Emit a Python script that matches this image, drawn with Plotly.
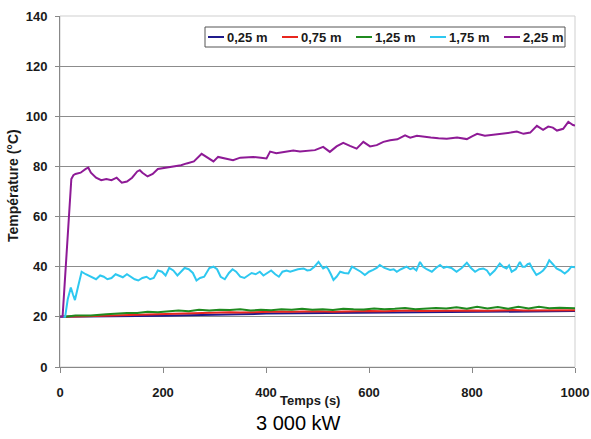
import plotly.graph_objects as go

# ---- data ----
series_names = ["0,25 m", "0,75 m", "1,25 m", "1,75 m", "2,25 m"]
series_colors = ["#1f1a8c", "#e8261e", "#1f8a1f", "#2ec8f0", "#8e1a96"]

t_blue = [0, 10, 60, 100, 150, 200, 250, 300, 350, 400, 450, 500, 550, 600, 650, 700, 750, 800, 850, 900, 950, 1000]
v_blue = [20, 20, 20.1, 20.1, 20.3, 20.4, 20.5, 20.8, 21, 21.3, 21.4, 21.6, 21.6, 21.8, 21.9, 22, 22, 22.1, 22.2, 22.2, 22.3, 22.3]

t_red = [0, 10, 50, 100, 150, 200, 230, 250, 280, 300, 330, 350, 380, 400, 430, 450, 480, 500, 530, 550, 580, 600, 630, 650, 680, 700, 730, 750, 780, 800, 830, 850, 880, 900, 930, 950, 980, 1000]
v_red = [20, 20, 20.2, 20.5, 20.8, 21, 21.3, 21.2, 21.5, 21.5, 21.8, 21.7, 21.9, 22, 22.1, 22, 22.2, 22.2, 22, 22.1, 22.3, 22.3, 22.2, 22.4, 22.5, 22.3, 22.4, 22.5, 22.6, 22.5, 22.4, 22.6, 22.7, 22.5, 22.6, 22.7, 22.6, 22.6]

t_green = [0, 10, 30, 60, 90, 110, 130, 150, 170, 190, 210, 230, 250, 270, 290, 310, 330, 350, 370, 390, 410, 430, 450, 470, 490, 510, 530, 550, 570, 590, 610, 630, 650, 670, 690, 710, 730, 750, 770, 790, 810, 830, 850, 870, 890, 910, 930, 950, 970, 1000]
v_green = [20, 20, 20.5, 20.5, 21, 21.3, 21.5, 21.5, 22, 21.8, 22.3, 22.5, 22.2, 22.8, 22.5, 22.8, 22.7, 23, 22.5, 22.8, 22.6, 23, 22.8, 23.2, 22.8, 23, 22.7, 23.2, 23, 22.9, 23.3, 23, 23.2, 23.5, 23, 23.3, 23.5, 23.3, 23.8, 23.2, 24, 23.3, 23.9, 23.2, 24, 23.3, 24, 23.4, 23.6, 23.4]

t_cyan = [0, 10, 15, 21, 25, 29, 35, 42, 50, 55, 62, 70, 78, 85, 92, 100, 108, 115, 122, 130, 138, 145, 152, 160, 168, 175, 182, 190, 198, 205, 212, 220, 228, 235, 242, 250, 258, 265, 272, 280, 290, 298, 305, 312, 320, 328, 335, 342, 350, 358, 365, 372, 380, 388, 395, 402, 410, 418, 425, 432, 440, 447, 455, 462, 473, 480, 486, 494, 502, 511, 517, 521, 526, 531, 537, 544, 552, 560, 567, 576, 584, 592, 600, 608, 615, 621, 630, 641, 648, 654, 662, 673, 680, 686, 692, 699, 705, 712, 722, 730, 738, 745, 751, 760, 770, 780, 790, 798, 806, 814, 822, 829, 835, 844, 854, 860, 867, 872, 877, 885, 893, 898, 903, 908, 912, 918, 925, 932, 938, 944, 950, 957, 964, 972, 980, 987, 993, 1000]
v_cyan = [20, 20, 27, 31.7, 29, 26.7, 32, 38, 37, 36.5, 35.5, 35, 36.5, 36, 35, 35.5, 37, 36.5, 35.8, 37, 36, 35, 34.5, 35.5, 36, 35, 35.5, 38.5, 38, 36.5, 39.5, 38.5, 36.5, 38, 39.5, 39, 37.5, 34.5, 35.5, 36, 39.5, 40, 39, 36, 35, 37.5, 39, 38, 36, 35.5, 36.5, 37.5, 37, 38, 36.5, 37.5, 38.5, 37, 36, 38, 38.5, 38, 38.5, 39, 39.3, 38.5, 38.7, 40, 41.9, 39.3, 40, 39, 37, 34.7, 36, 38, 37.5, 37.3, 40, 39, 38, 36.7, 38, 38.7, 39.5, 40.7, 39.5, 38.7, 39, 38, 39, 40, 39, 39.5, 38.5, 41.9, 40, 39, 38, 39.5, 40.7, 39.5, 40, 39.5, 38, 39.5, 41.6, 39.5, 38, 39, 39.3, 38.5, 36.7, 38.5, 41.3, 40, 39.3, 40.5, 38, 39, 41.9, 40, 40, 41, 41.3, 39, 36.7, 37.5, 38.5, 40, 42.6, 41, 39.3, 38.5, 37.3, 38.5, 40, 39.8]

t_purple = [0, 5, 22, 26, 30, 40, 50, 55, 60, 70, 80, 90, 100, 110, 120, 130, 140, 150, 155, 160, 170, 180, 190, 200, 210, 220, 235, 246, 260, 275, 290, 298, 307, 320, 336, 350, 375, 390, 401, 408, 420, 435, 453, 466, 480, 495, 511, 524, 537, 550, 563, 576, 589, 602, 615, 628, 641, 655, 670, 680, 693, 705, 720, 735, 751, 771, 790, 800, 810, 825, 837, 849, 862, 875, 887, 900, 913, 926, 938, 948, 957, 965, 977, 987, 996, 1000]
v_purple = [20, 20, 75, 76.5, 77, 77.5, 79, 79.5, 77.5, 75.5, 74.5, 75, 74.5, 75.5, 73.5, 74, 75.5, 78, 78.5, 77.5, 76, 77, 79, 79.3, 79.5, 80, 80.5, 81.2, 82, 85, 83, 82, 83.8, 83.2, 82.5, 83.5, 83.8, 83.5, 83.2, 85.9, 85.3, 85.8, 86.3, 86, 86.2, 86.5, 87.8, 85.8, 88, 89.4, 88.2, 87.1, 89.8, 88, 88.5, 89.8, 90.4, 90.8, 92.4, 91.5, 92.2, 92, 91.5, 91.2, 91, 91.5, 90.9, 92, 93, 92.2, 92.5, 92.6, 93, 93.5, 93.9, 93, 93.5, 96.2, 94.6, 95.9, 95.5, 94.3, 95, 97.8, 96.5, 96.3]

x_ticks = [0, 200, 400, 600, 800, 1000]
y_ticks = [0, 20, 40, 60, 80, 100, 120, 140]

all_t = [t_blue, t_red, t_green, t_cyan, t_purple]
all_v = [v_blue, v_red, v_green, v_cyan, v_purple]

# plot-area geometry (pixels) used to place the hand-made legend
W, H = 591, 439
ML, MR, MT, MB = 60, 16, 16, 72
PW, PH = W - ML - MR, H - MT - MB


def px_x(p):
    return (p - ML) / PW


def px_y(p):
    return (H - MB - p) / PH


fig = go.Figure()
for name, col, tt, vv in zip(series_names, series_colors, all_t, all_v):
    fig.add_trace(go.Scatter(x=tt, y=vv, mode="lines", name=name,
                             line=dict(color=col, width=2), showlegend=False))

shapes = [dict(type="rect", xref="paper", yref="paper", x0=0, y0=0, x1=1, y1=1,
               line=dict(color="#cfcfcf", width=1), layer="below")]
annotations = []

# legend box
LEG_X0, LEG_X1, LEG_Y0, LEG_Y1 = 205, 565, 27, 47
shapes.append(dict(type="rect", xref="paper", yref="paper",
                   x0=px_x(LEG_X0), x1=px_x(LEG_X1), y0=px_y(LEG_Y1), y1=px_y(LEG_Y0),
                   line=dict(color="#555555", width=1), fillcolor="white", layer="above"))
leg_step = 74
leg_start = 208
leg_line = 16
leg_cy = (LEG_Y0 + LEG_Y1) / 2
for i, (name, col) in enumerate(zip(series_names, series_colors)):
    lx = leg_start + i * leg_step
    shapes.append(dict(type="line", xref="paper", yref="paper",
                       x0=px_x(lx), x1=px_x(lx + leg_line), y0=px_y(leg_cy), y1=px_y(leg_cy),
                       line=dict(color=col, width=2), layer="above"))
    annotations.append(dict(text=name, x=px_x(lx + leg_line + 1), y=px_y(leg_cy), xref="paper", yref="paper",
                            showarrow=False, xanchor="left", yanchor="middle",
                            font=dict(size=13, weight="bold", color="#1a1a1a")))

annotations += [
    dict(text="Temps (s)", x=px_x(310), y=px_y(400), xref="paper", yref="paper",
         showarrow=False, font=dict(size=13, weight="bold"), xanchor="center", yanchor="middle"),
    dict(text="Température (°C)", x=px_x(13), y=px_y(186), xref="paper", yref="paper",
         showarrow=False, textangle=-90, font=dict(size=14, weight="bold"),
         xanchor="center", yanchor="middle"),
    dict(text="3 000 kW", x=px_x(298), y=px_y(423), xref="paper", yref="paper",
         showarrow=False, font=dict(size=20, color="#000000"), xanchor="center", yanchor="middle"),
]

fig.update_layout(
    width=W, height=H,
    margin=dict(l=ML, r=MR, t=MT, b=MB, autoexpand=False),
    paper_bgcolor="white", plot_bgcolor="white",
    font=dict(family="Arial, Liberation Sans, sans-serif", color="#1a1a1a"),
    showlegend=False,
    shapes=shapes,
    annotations=annotations,
)

fig.update_xaxes(range=[0, 1000], tickvals=x_ticks, ticks="outside", ticklen=5,
                 tickcolor="#888888", showline=True, linecolor="#888888", linewidth=1,
                 showgrid=False, zeroline=False, automargin=False, ticklabelstandoff=8,
                 tickfont=dict(size=13, weight="bold", color="#1a1a1a"))
fig.update_yaxes(range=[0, 140], tickvals=y_ticks, ticks="outside", ticklen=4,
                 tickcolor="#888888", showline=True, linecolor="#888888", linewidth=1,
                 showgrid=True, gridcolor="#8c8c8c", gridwidth=1, zeroline=False, automargin=False,
                 ticklabelstandoff=5,
                 tickfont=dict(size=13, weight="bold", color="#1a1a1a"))

fig.write_html("out.html", config={"displayModeBar": False},
               post_script="document.body.style.margin='0';")
